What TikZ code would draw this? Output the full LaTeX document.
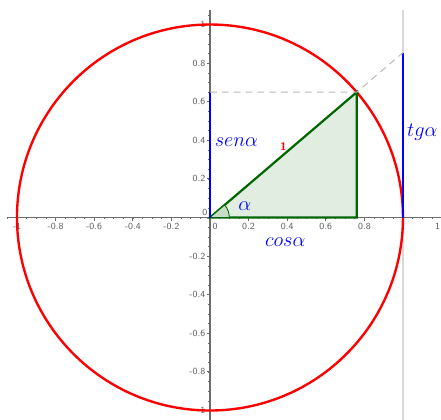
\documentclass[tikz,border=0pt]{standalone}
\usetikzlibrary{positioning}

\begin{document}
\begin{tikzpicture}[x=4cm,y=4cm,font=\sffamily,axis/.style={draw=gray!85!black,line width=1.1pt},tick/.style={draw=gray!85!black,line width=0.5pt},ticklab/.style={font=\sffamily\fontsize{5.5}{6}\selectfont,text=gray!75!black,inner sep=0.5pt},mathlab/.style={text=blue,font=\large,inner sep=0pt},blueline/.style={draw=blue,line width=1.5pt},guide/.style={draw=gray!55,dash pattern=on 4pt off 3pt,line width=0.6pt}]
\def\ang{40.5}
\useasboundingbox (-1.088,-1.049) rectangle (1.197,1.127);
\coordinate (O) at (0,0);\coordinate (U) at (1,0);
\coordinate (P) at ({cos(\ang)},{sin(\ang)});\coordinate (C) at ({cos(\ang)},0);\coordinate (S) at (0,{sin(\ang)});\coordinate (T) at (1,{tan(\ang)});
% axes and ticks
\draw[draw=gray!30,line width=1.4pt] (1,1.075) -- (1,-1.049);
\draw[axis] (-1.052,0) -- (1.197,0);\draw[axis] (0,1.075) -- (0,-1.049);
\foreach \m in {-21,...,23}{\draw[tick,line width=0.3pt] (\m/20,0) -- (\m/20,-0.008);}
\foreach \m in {-20,...,21}{\draw[tick,line width=0.3pt] (0,\m/20) -- (-0.008,\m/20);}
\foreach \t [count=\i] in {-1,-0.8,-0.6,-0.4,-0.2,0.2,0.4,0.6,0.8}{\draw[tick] (\t,0) -- (\t,-0.016);\node[ticklab] (xl\i) at (\t,-0.045){\t};}
\foreach \t [count=\i] in {-1,-0.8,-0.6,-0.4,-0.2,0.2,0.4,0.6,0.8,1}{\draw[tick] (0,\t) -- (-0.016,\t);\node[ticklab,anchor=east] (yl\i) at (-0.018,\t){\t};}
\node[ticklab] (xone) at (1.18,-0.045){1};
\node[ticklab] (xzero) at (0.027,-0.045){0};\node[ticklab] (yzero) at (-0.027,0.025){0};
% circle, triangle, segments
\draw[red,line width=1.4pt] (O) circle (1);
\filldraw[fill=green!40!black!12,draw=green!40!black,line width=1.3pt] (O) -- (C) -- (P) -- cycle;
\filldraw[fill=green!40!black!22,draw=green!40!black,line width=0.5pt] (O) -- (0.1,0) arc (0:\ang:0.1) -- cycle;
\draw[blueline] (O) -- (S);\draw[blueline] (U) -- (T);
\draw[guide] (S) -- (P) -- (T);
% labels
\node[mathlab] (sen) at (0.137,0.39){$sen\alpha$};
\node[text=red,font=\sffamily\bfseries\fontsize{6.5}{7}\selectfont] (one) at (0.38,0.37){1};
\node[mathlab] (alpha) at (0.18,0.06){$\alpha$};
\node[mathlab] (cos) at (0.39,-0.125){$cos\alpha$};
\node[mathlab] (tg) at (1.10,0.44){$tg\alpha$};
\end{tikzpicture}
\end{document}
